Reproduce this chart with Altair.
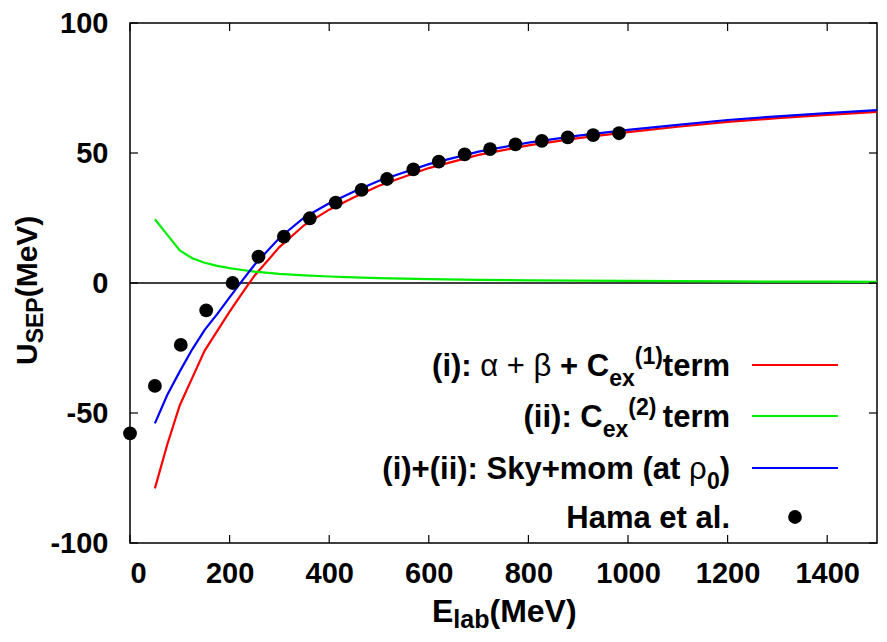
import altair as alt
import pandas as pd

# ---------------- data ----------------
E_curve = [50, 75, 100, 125, 150, 175, 200, 225, 250, 300, 350, 400, 450, 500,
           600, 700, 800, 900, 1000, 1100, 1200, 1300, 1400, 1500]
U_red = [-79, -62, -47, -36.5, -26, -18.5, -11, -4, 2.8, 13.8, 22.3, 28.2, 33, 37.4,
         44.2, 49.3, 52.9, 55.7, 58, 60.1, 62, 63.4, 64.7, 65.8]
U_green = [24.5, 18.5, 12.5, 9.5, 7.8, 6.6, 5.7, 5.0, 4.4, 3.5, 2.9, 2.5, 2.2, 1.9,
           1.5, 1.2, 1.0, 0.9, 0.8, 0.7, 0.6, 0.55, 0.5, 0.45]
U_blue = [-54, -43, -34, -25.5, -18, -12, -5.5, 0.8, 7, 17.3, 25.2, 30.7, 35.2, 39.3,
          45.7, 50.5, 54, 56.7, 58.9, 60.8, 62.7, 64.1, 65.3, 66.5]
E_hama = [0, 50, 102, 153, 206, 258, 309, 361, 413, 465, 516, 569, 620, 672,
          723, 774, 827, 879, 930, 982]
U_hama = [-57.8, -39.6, -23.8, -10.5, 0, 10.1, 17.8, 24.9, 30.9, 35.8, 40, 43.7,
          46.7, 49.5, 51.5, 53.3, 54.7, 56, 56.9, 57.6]
x_ticks = [0, 200, 400, 600, 800, 1000, 1200, 1400]
y_ticks = [-100, -50, 0, 50, 100]
series_names = ["red", "green", "blue"]
series_colors = ["#ff0000", "#00ee00", "#0000ff"]

# legend texts: (text, weight, position)
legend_parts = [
    [("(i): ", "bold", "base"), ("\u03b1 + \u03b2 ", "normal", "base"),
     ("+ C", "bold", "base"), ("ex", "bold", "sub"),
     ("(1)", "bold", "sup"), ("term", "bold", "base")],
    [("(ii): C", "bold", "base"), ("ex", "bold", "sub"), ("(2) ", "bold", "sup"),
     ("term", "bold", "base")],
    [("(i)+(ii): Sky+mom (at ", "bold", "base"), ("\u03c1", "normal", "base"),
     ("0", "bold", "sub"), (")", "bold", "base")],
    [("Hama et al.", "bold", "base")],
]
xtitle_parts = [("E", "bold", "base"), ("lab", "bold", "sub"), ("(MeV)", "bold", "base")]
ytitle_parts = [("U", "bold", "base"), ("SEP", "bold", "sub"), ("(MeV)", "bold", "base")]

# ---------------- layout helpers ----------------
FONT = "Liberation Sans"
W, H = 747, 520
BOLD_W = {' ': .278, '(': .333, ')': .333, '+': .584, '.': .278, ':': .333,
          'C': .722, 'E': .667, 'H': .722, 'M': .833, 'P': .667, 'S': .667, 'U': .722, 'V': .667,
          'a': .556, 'b': .611, 'e': .556, 'i': .278, 'k': .556, 'l': .278, 'm': .889,
          'o': .611, 'r': .389, 't': .333, 'x': .556, 'y': .556}
NORM_W = {' ': .278, '+': .584, '\u03b1': .58, '\u03b2': .575, '\u03c1': .578}


def text_width(t, weight, fs):
    table = BOLD_W if weight == "bold" else NORM_W
    return sum(table.get(c, .556) for c in t) * fs


def layout(parts, fs, fs_sub, d_sub, d_sup):
    out, off = [], 0.0
    for t, wgt, pos in parts:
        f = fs if pos == "base" else fs_sub
        d = {"base": 0, "sub": d_sub, "sup": d_sup}[pos]
        out.append(dict(t=t.strip(), w=wgt, off=off, d=d, s=f))
        off += text_width(t, wgt, f)
    return out, off


# legend segments
leg_rows = []
row_centers = [342, 393, 445, 494]
LEG_RIGHT = 600
for i, parts in enumerate(legend_parts):
    segs, total = layout(parts, 31, 23, 10, -12)
    for s in segs:
        leg_rows.append(dict(t=s["t"], w=s["w"], x=LEG_RIGHT - total + s["off"],
                             y=row_centers[i] + 11 + s["d"], s=s["s"]))
leg_df = pd.DataFrame(leg_rows)

# x-title segments
xt_rows = []
segs, total = layout(xtitle_parts, 32, 25, 6, -12)
for s in segs:
    xt_rows.append(dict(t=s["t"], w=s["w"], x=302 + s["off"], y=599 + s["d"], s=s["s"]))
xt_df = pd.DataFrame(xt_rows)

# y-title segments (rotated)
yt_rows = []
segs, total = layout(ytitle_parts, 30, 23, 6, -12)
for s in segs:
    yt_rows.append(dict(t=s["t"], w=s["w"], x=-93 + s["d"], y=342 - s["off"], s=s["s"]))
yt_df = pd.DataFrame(yt_rows)

# ---------------- data frames ----------------
curves = pd.DataFrame({
    "E": E_curve * 3,
    "U": U_red + U_green + U_blue,
    "series": ["red"] * len(E_curve) + ["green"] * len(E_curve) + ["blue"] * len(E_curve),
})
hama = pd.DataFrame({"E": E_hama, "U": U_hama})
xt = pd.DataFrame({"v": x_ticks})
yt = pd.DataFrame({"v": y_ticks})

xscale = alt.Scale(domain=[0, 1500], nice=False, zero=False)
yscale = alt.Scale(domain=[-100, 100], nice=False, zero=False)
x_axis = alt.Axis(values=x_ticks, labelExpr="'' + datum.value", labelPadding=16)
y_axis = alt.Axis(values=y_ticks, labelExpr="'' + datum.value", labelPadding=22)

zero_line = alt.Chart(pd.DataFrame({"y": [0]})).mark_rule(color="black", strokeWidth=1.4).encode(
    y=alt.Y("y:Q", scale=yscale, axis=y_axis, title=None)
)

lines = alt.Chart(curves).mark_line(strokeWidth=2.2, clip=True).encode(
    x=alt.X("E:Q", scale=xscale, axis=x_axis, title=None),
    y=alt.Y("U:Q", scale=yscale, axis=y_axis, title=None),
    color=alt.Color("series:N", scale=alt.Scale(domain=series_names, range=series_colors), legend=None),
    order=alt.Order("E:Q"),
)
lines_r = lines.transform_filter(alt.datum.series == "red")
lines_g = lines.transform_filter(alt.datum.series == "green")
lines_b = lines.transform_filter(alt.datum.series == "blue")

points = alt.Chart(hama).mark_point(filled=True, color="black", size=190, opacity=1, shape="circle").encode(
    x=alt.X("E:Q", scale=xscale, axis=x_axis, title=None),
    y=alt.Y("U:Q", scale=yscale, axis=y_axis, title=None),
)

tick_style = dict(color="black", strokeWidth=1.2)
xt_bottom = alt.Chart(xt).mark_rule(**tick_style).encode(
    x=alt.X("v:Q", scale=xscale, axis=x_axis, title=None), y=alt.value(H), y2=alt.value(H - 8))
xt_top = alt.Chart(xt).mark_rule(**tick_style).encode(
    x=alt.X("v:Q", scale=xscale, axis=x_axis, title=None), y=alt.value(0), y2=alt.value(8))
yt_left = alt.Chart(yt).mark_rule(**tick_style).encode(
    y=alt.Y("v:Q", scale=yscale, axis=y_axis, title=None), x=alt.value(0), x2=alt.value(8))
yt_right = alt.Chart(yt).mark_rule(**tick_style).encode(
    y=alt.Y("v:Q", scale=yscale, axis=y_axis, title=None), x=alt.value(W - 8), x2=alt.value(W))

# legend samples
leg_lines = []
for i, col in enumerate(series_colors):
    leg_lines.append(
        alt.Chart(pd.DataFrame({"k": [series_names[i]]})).mark_rule(color=col, strokeWidth=2).encode(
            x=alt.value(622), x2=alt.value(708), y=alt.value(row_centers[i]))
    )
leg_dot = alt.Chart(pd.DataFrame({"k": ["Hama et al."]})).mark_point(
    filled=True, color="black", size=190, opacity=1, shape="circle").encode(
    x=alt.value(665), y=alt.value(row_centers[3]))


def text_layer(df, weight, angle=0):
    return alt.Chart(df).transform_filter(alt.datum.w == weight).mark_text(
        font=FONT, fontWeight=weight, align="left", baseline="alphabetic",
        color="black", angle=angle).encode(
        x=alt.X("x:Q", scale=None, axis=None),
        y=alt.Y("y:Q", scale=None, axis=None),
        size=alt.Size("s:Q", scale=None, legend=None),
        text="t:N",
    )


texts = [
    text_layer(leg_df, "bold"), text_layer(leg_df, "normal"),
    text_layer(xt_df, "bold"),
    text_layer(yt_df, "bold", angle=270),
]

chart = alt.layer(
    zero_line, lines_r, lines_g, lines_b, points,
    xt_bottom, xt_top, yt_left, yt_right,
    *leg_lines, leg_dot, *texts,
).properties(
    width=W, height=H,
    autosize=alt.AutoSizeParams(type="none"),
    padding={"left": 122, "top": 15, "right": 2, "bottom": 91},
    background="white",
).configure_view(
    stroke="black", strokeWidth=1.5
).configure_axis(
    labelFont=FONT, labelFontSize=29, labelFontWeight="bold", labelColor="black",
    ticks=False, tickSize=0, domain=False, grid=False, labelOverlap=False,
)

chart.save("out.html", embed_options={"renderer": "svg", "actions": False})
